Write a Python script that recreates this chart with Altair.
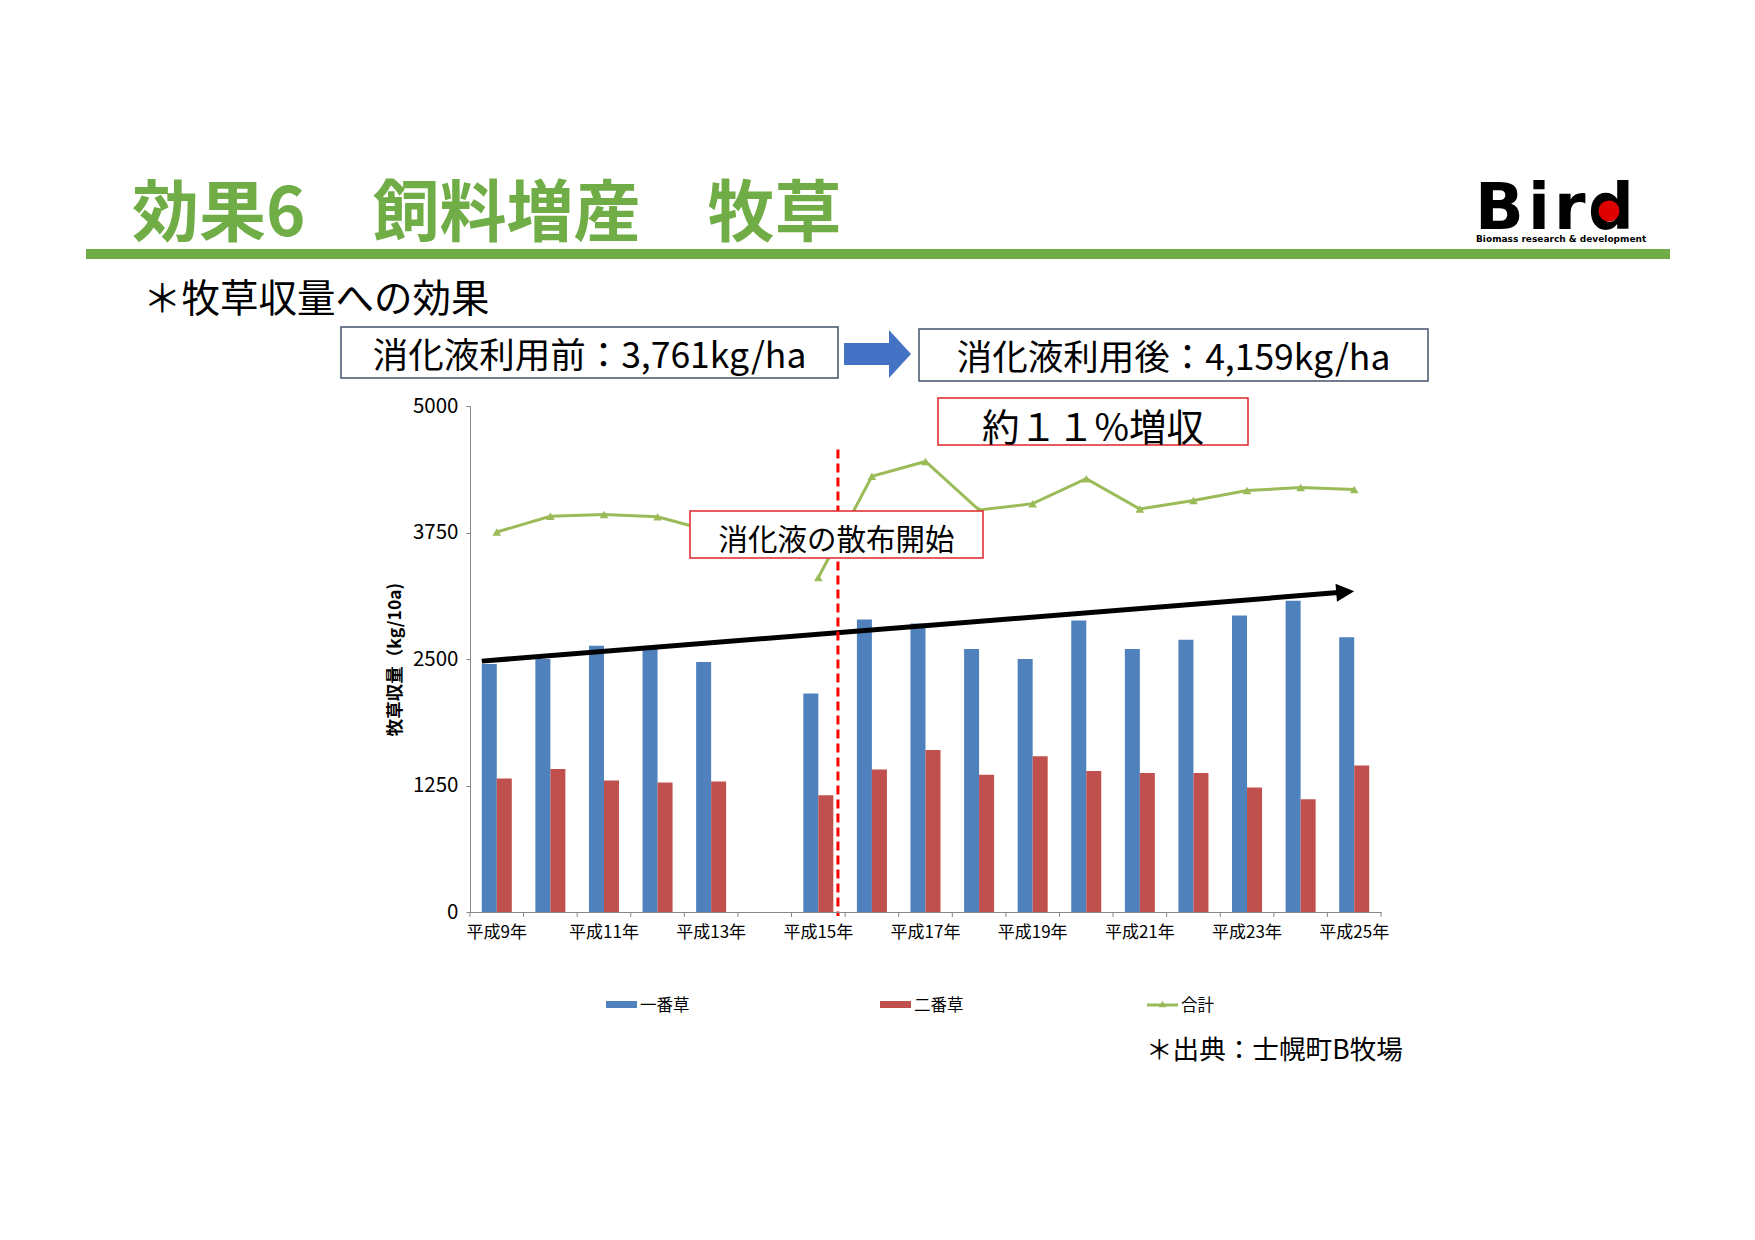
import altair as alt
import pandas as pd

# ---------------- data ----------------
categories = ["平成9年", "平成10年", "平成11年", "平成12年", "平成13年", "平成14年",
              "平成15年", "平成16年", "平成17年", "平成18年", "平成19年", "平成20年",
              "平成21年", "平成22年", "平成23年", "平成24年", "平成25年"]
first_cut = [2450, 2500, 2630, 2600, 2470, None, 2160, 2890, 2850, 2600, 2500,
             2880, 2600, 2690, 2930, 3075, 2715]
second_cut = [1318, 1413, 1300, 1280, 1290, None, 1153, 1408, 1600, 1356, 1540,
              1394, 1373, 1373, 1230, 1113, 1447]
total = [3755, 3910, 3928, 3905, 3762, None, 3305, 4305, 4452, 3972, 4035,
         4282, 3982, 4067, 4165, 4194, 4176]
series_names = ["一番草", "二番草", "合計"]
series_colors = ["#4F81BD", "#C0504D", "#9BBB59"]
y_ticks = [0, 1250, 2500, 3750, 5000]
x_label_values = categories[::2]

# annotation values (category units / kg per 10a)
trend_x = [0.22, 16.2]
trend_y = [2479, 3156]
trend_tip = [16.332, 3162]
spray_x = 6.866
spray_y = [4571, -40]

FONT = "Noto Sans CJK JP"
W, H = 911, 506
OX, OY = 470, 406          # page position of the plot origin


def rx(x):
    return x - OX


def ry(y):
    return y - OY


one = pd.DataFrame({"a": [0]})

# ---------------- tables ----------------
rows = []
for c, a, b in zip(categories, first_cut, second_cut):
    if a is not None:
        rows.append({"year": c, "series": series_names[0], "value": a})
    if b is not None:
        rows.append({"year": c, "series": series_names[1], "value": b})
bar_df = pd.DataFrame(rows)

line_rows = []
seg = 0
for c, t in zip(categories, total):
    if t is None:
        seg += 1
        continue
    line_rows.append({"year": c, "value": t, "seg": seg})
line_df = pd.DataFrame(line_rows)

x_band = alt.Scale(domain=categories, paddingInner=0.44, paddingOuter=0.22)
y_scale = alt.Scale(domain=[0, 5000], nice=False)
xq = alt.Scale(domain=[0, len(categories)], nice=False, zero=False)

# ---------------- layers ----------------
bg = alt.Chart(one).mark_rect(fill="white", opacity=0).encode(
    x=alt.value(-462), x2=alt.value(1277), y=alt.value(-398), y2=alt.value(826))

bars = alt.Chart(bar_df).mark_bar().encode(
    x=alt.X("year:N", scale=x_band,
            axis=alt.Axis(values=x_label_values, ticks=False, labelAngle=0, labelPadding=12,
                          labelFontSize=17, labelFont=FONT, labelColor="#000000",
                          domainColor="#868686", title=None, zindex=1)),
    xOffset=alt.XOffset("series:N", sort=series_names[:2]),
    y=alt.Y("value:Q", scale=y_scale,
            axis=alt.Axis(values=y_ticks, format="d", grid=False, tickSize=4, tickColor="#868686",
                          domainColor="#868686", labelFontSize=20.5, labelFont=FONT,
                          labelColor="#000000", labelPadding=8, zindex=1,
                          title="牧草収量（kg/10a)", titleFont=FONT, titleFontSize=17.5,
                          titleFontWeight="bold", titleColor="#000000", titlePadding=8)),
    color=alt.Color("series:N", scale=alt.Scale(domain=series_names[:2], range=series_colors[:2]),
                    legend=None),
)

line = alt.Chart(line_df).mark_line(color=series_colors[2], strokeWidth=3).encode(
    x=alt.X("year:N", scale=x_band, axis=None),
    y=alt.Y("value:Q", scale=y_scale, axis=None),
    detail="seg:N",
)
pts = alt.Chart(line_df).mark_point(shape="triangle-up", filled=True, size=75,
                                    color=series_colors[2], opacity=1).encode(
    x=alt.X("year:N", scale=x_band, axis=None),
    y=alt.Y("value:Q", scale=y_scale, axis=None),
)

tick_df = pd.DataFrame({"b": list(range(len(categories) + 1))})
ticks = alt.Chart(tick_df).mark_rule(color="#868686", strokeWidth=1).encode(
    x=alt.X("b:Q", scale=xq, axis=None), y=alt.value(H), y2=alt.value(H + 5))

trend_df = pd.DataFrame({"x": [trend_x[0]], "x2": [trend_x[1]], "y": [trend_y[0]], "y2": [trend_y[1]]})
shaft = alt.Chart(trend_df).mark_rule(color="black", strokeWidth=5).encode(
    x=alt.X("x:Q", scale=xq, axis=None), x2="x2:Q",
    y=alt.Y("y:Q", scale=y_scale, axis=None), y2="y2:Q")
head_df = pd.DataFrame({"x": [trend_tip[0]], "y": [trend_tip[1]]})
head = alt.Chart(head_df).mark_point(shape="M-1,-1L1,0L-1,1Z", filled=True, size=324,
                                     color="black", opacity=1, angle=355.4).encode(
    x=alt.X("x:Q", scale=xq, axis=None), y=alt.Y("y:Q", scale=y_scale, axis=None))

spray_df = pd.DataFrame({"x": [spray_x], "y": [spray_y[0]], "y2": [spray_y[1]]})
spray = alt.Chart(spray_df).mark_rule(color="#FF0000", strokeWidth=3, strokeDash=[9, 5]).encode(
    x=alt.X("x:Q", scale=xq, axis=None), y=alt.Y("y:Q", scale=y_scale, axis=None), y2="y2:Q")


def box(x1, x2, y1, y2, stroke, sw=1.5, fill="white"):
    return alt.Chart(one).mark_rect(fill=fill, stroke=stroke, strokeWidth=sw).encode(
        x=alt.value(rx(x1)), x2=alt.value(rx(x2)), y=alt.value(ry(y1)), y2=alt.value(ry(y2)))


def txt(text, x, y, size, color="#000000", align="left", weight="normal", font=FONT,
        baseline="middle"):
    return alt.Chart(one).mark_text(text=text, align=align, baseline=baseline, fontSize=size,
                                    font=font, fontWeight=weight, color=color).encode(
        x=alt.value(rx(x)), y=alt.value(ry(y)))


GREEN = "#70AD47"
BOXLINE = "#44546A"
RED = "#E0262B"

title = txt("効果6　飼料増産　牧草", 132, 216, 67, color=GREEN, weight="bold")
green_rule = alt.Chart(one).mark_rect(fill=GREEN).encode(
    x=alt.value(rx(86)), x2=alt.value(rx(1670)), y=alt.value(ry(249)), y2=alt.value(ry(259)))

bird_letters = ["B", "i", "r", "d"]
bird_x = [1475, 1528, 1554, 1588]
bird = [txt(ch, bx, 229, 64, weight="bold", font="DejaVu Sans", baseline="alphabetic")
        for ch, bx in zip(bird_letters, bird_x)]
bird_dot = alt.Chart(one).mark_point(shape="circle", filled=True, size=440, color="#E00000",
                                     opacity=1).encode(x=alt.value(rx(1609)), y=alt.value(ry(211)))
bird_sub = txt("Biomass research & development", 1476, 239, 9, weight="bold", font="DejaVu Sans")
subtitle = txt("＊牧草収量への効果", 143, 300, 38.5)

box1 = box(341, 838, 327, 378, BOXLINE)
box1_t = txt("消化液利用前：3,761kg/ha", 589.5, 357, 35.5, align="center")
arrow = alt.Chart(one).mark_point(
    shape="M-1.396,-0.46L0.479,-0.46L0.479,-1L1.396,0L0.479,1L0.479,0.46L-1.396,0.46Z",
    filled=True, size=2304, color="#4472C4", opacity=1).encode(
    x=alt.value(rx(877.5)), y=alt.value(ry(354)))
box2 = box(919, 1428, 329, 381, BOXLINE)
box2_t = txt("消化液利用後：4,159kg/ha", 1173.5, 359, 35.5, align="center")

box3 = box(938, 1248, 398, 445, RED)
box3_t = txt("約１１%増収", 1093, 430, 37.5, align="center")
box4 = box(690, 983, 511, 558, RED)
box4_t = txt("消化液の散布開始", 836.5, 541, 29.5, align="center")

leg = []
for i, (xs, name) in enumerate(zip([606, 880], series_names[:2])):
    leg.append(alt.Chart(one).mark_rect(fill=series_colors[i]).encode(
        x=alt.value(rx(xs)), x2=alt.value(rx(xs + 31)), y=alt.value(ry(1001)), y2=alt.value(ry(1008))))
    leg.append(txt(name, xs + 34, 1006, 16.5))
leg.append(alt.Chart(one).mark_rule(color=series_colors[2], strokeWidth=3).encode(
    x=alt.value(rx(1147)), x2=alt.value(rx(1178)), y=alt.value(ry(1005))))
leg.append(alt.Chart(one).mark_point(shape="triangle-up", filled=True, size=60,
                                     color=series_colors[2], opacity=1).encode(
    x=alt.value(rx(1162.5)), y=alt.value(ry(1004))))
leg.append(txt(series_names[2], 1181, 1006, 16.5))

source = txt("＊出典：士幌町B牧場", 1146, 1051, 26.6)

chart = alt.layer(
    bg, bars, line, pts, ticks, shaft, head, spray,
    box4, box4_t, box3, box3_t,
    title, green_rule, *bird, bird_dot, bird_sub, subtitle,
    box1, box1_t, arrow, box2, box2_t, *leg, source,
).resolve_scale(x="independent").resolve_axis(y="independent").properties(
    width=W, height=H, padding=0, background="white"
).configure_view(stroke=None)

chart.save("out.html", embed_options={"renderer": "svg", "actions": False})
